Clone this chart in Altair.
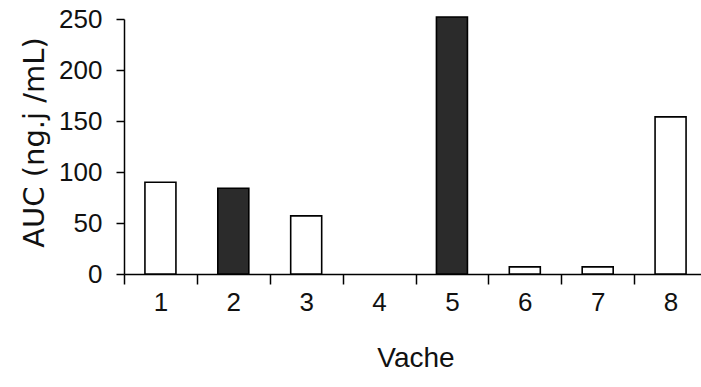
import altair as alt
import pandas as pd

vaches = ["1", "2", "3", "4", "5", "6", "7", "8"]
auc = [90, 84, 57, 0, 252, 7, 7, 154]
groupes = ["blanc", "noir", "blanc", "blanc", "noir", "blanc", "blanc", "blanc"]
y_ticks = [0, 50, 100, 150, 200, 250]

df = pd.DataFrame({"Vache": vaches, "AUC": auc, "Groupe": groupes})

FONT = "Liberation Sans"
INK = "#111111"

chart = alt.Chart(df).mark_bar(width=31, stroke="black", strokeWidth=1.6).encode(
    x=alt.X(
        "Vache:N",
        sort=vaches,
        scale=alt.Scale(range=[0, 583], paddingInner=0, paddingOuter=0),
        axis=alt.Axis(
            title="Vache", labelAngle=0, tickBand="extent", tickSize=10,
            tickWidth=1.5, tickColor="black", domainColor="black", domainWidth=1.5,
            labelFont=FONT, labelFontSize=26, labelColor=INK, labelPadding=5,
            titleFont=FONT, titleFontSize=28, titleFontWeight="normal", titleColor=INK,
            titleY=84, titleBaseline="middle", grid=False,
        ),
    ),
    y=alt.Y(
        "AUC:Q",
        scale=alt.Scale(domain=[0, 250], nice=False),
        axis=alt.Axis(
            title="AUC (ng.j /mL)", values=y_ticks, tickSize=8, tickWidth=1.5,
            tickColor="black", domainColor="black", domainWidth=1.5,
            labelFont=FONT, labelFontSize=26, labelColor=INK, labelPadding=14,
            titleFont="DejaVu Sans", titleFontSize=29, titleFontWeight="normal",
            titleColor=INK, titleX=-90, titleY=123, titleBaseline="middle",
            titleAngle=-90, grid=False,
        ),
    ),
    fill=alt.Fill(
        "Groupe:N",
        scale=alt.Scale(domain=["blanc", "noir"], range=["white", "#2b2b2b"]),
        legend=None,
    ),
    strokeOpacity=alt.condition(alt.datum.AUC > 0, alt.value(1), alt.value(0)),
).properties(
    width=577, height=255, autosize="none",
    padding={"left": 124, "top": 19, "right": 0, "bottom": 113},
    background="white",
).configure_view(stroke=None)

chart.save("out.html", embed_options={"renderer": "svg", "actions": False})
